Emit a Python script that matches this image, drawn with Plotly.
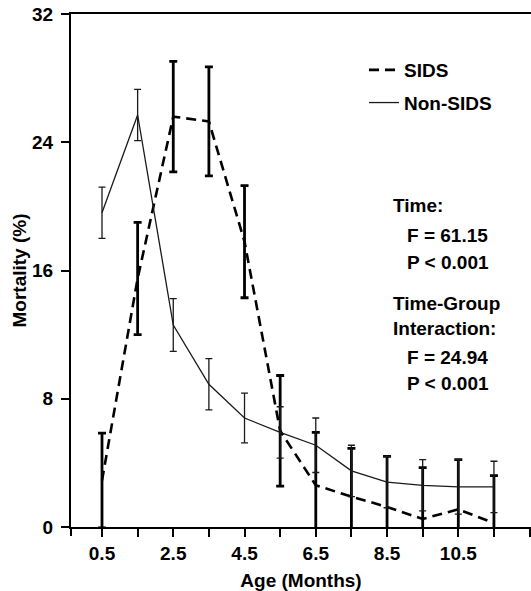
import plotly.graph_objects as go

# ---- data ----
ages = [0.5, 1.5, 2.5, 3.5, 4.5, 5.5, 6.5, 7.5, 8.5, 9.5, 10.5, 11.5]
sids_mean = [2.9, 15.5, 25.6, 25.3, 17.8, 6.0, 2.6, 1.9, 1.25, 0.5, 1.1, 0.25]
sids_err = [2.95, 3.5, 3.45, 3.4, 3.5, 3.45, 3.3, 3.0, 3.15, 3.2, 3.1, 2.95]
non_mean = [19.6, 25.7, 12.6, 8.9, 6.8, 5.9, 5.1, 3.5, 2.8, 2.6, 2.5, 2.5]
non_err = [1.6, 1.6, 1.65, 1.6, 1.55, 1.6, 1.7, 1.6, 1.6, 1.6, 1.7, 1.6]
x_tick_vals = [0.5, 2.5, 4.5, 6.5, 8.5, 10.5]
x_tick_text = ["0.5", "2.5", "4.5", "6.5", "8.5", "10.5"]
y_tick_vals = [0, 8, 16, 24, 32]
stats_lines = [
    ("Time:", 0),
    ("F = 61.15", 1),
    ("P < 0.001", 1),
    ("Time-Group", 0),
    ("Interaction:", 0),
    ("F = 24.94", 1),
    ("P < 0.001", 1),
]

W, H = 531, 591
ML, MR, MT, MB = 71, 0, 14, 64
PW, PH = W - ML - MR, H - MT - MB
FONT = "Liberation Sans"
FS = 19


def px(x):
    return (x - ML) / PW


def py(y):
    return (H - MB - y) / PH


bold = dict(family=FONT, size=FS, color="black", weight="bold")

fig = go.Figure()
fig.add_trace(go.Scatter(
    x=ages, y=sids_mean, mode="lines", name="SIDS", legendgroup="a",
    line=dict(color="black", width=2.6, dash="10px,6px"),
    error_y=dict(type="data", array=sids_err, color="black", thickness=2.8, width=4),
))
fig.add_trace(go.Scatter(
    x=ages, y=non_mean, mode="lines", name="Non-SIDS", legendgroup="b",
    line=dict(color="#1a1a1a", width=1.3),
    error_y=dict(type="data", array=non_err, color="#1a1a1a", thickness=1.3, width=3.5),
))

# stats annotations
ys = [205, 235, 262, 303, 328, 357, 383]
for (txt, indent), yy in zip(stats_lines, ys):
    fig.add_annotation(
        x=px(391 + 14 * indent), y=py(yy), xref="paper", yref="paper",
        text=txt, showarrow=False, xanchor="left", yanchor="middle",
        font=bold,
    )

# y axis extends slightly below x axis
fig.add_shape(type="line", xref="paper", yref="paper", x0=0, x1=0, y0=0, y1=-9 / PH,
              line=dict(color="black", width=2))

fig.update_layout(
    width=W, height=H,
    margin=dict(l=ML, r=MR, t=MT, b=MB),
    paper_bgcolor="white", plot_bgcolor="white",
    font=bold,
    showlegend=True,
    legend=dict(
        x=px(364), y=py(51), xanchor="left", yanchor="top",
        traceorder="grouped", tracegroupgap=5,
        font=bold,
        bgcolor="rgba(0,0,0,0)",
    ),
    xaxis=dict(
        range=[-0.37, 12.54],
        tickmode="array", tickvals=x_tick_vals, ticktext=x_tick_text,
        ticks="outside", ticklen=8, tickwidth=2, tickcolor="black",
        minor=dict(tickmode="linear", tick0=0.5, dtick=1, ticks="outside",
                   ticklen=8, tickwidth=2, tickcolor="black", showgrid=False),
        showline=True, linecolor="black", linewidth=2, mirror=True,
        showgrid=False, zeroline=False,
        tickfont=bold,
        title=dict(text="Age (Months)", standoff=12, font=bold),
    ),
    yaxis=dict(
        range=[0, 32],
        tickmode="array", tickvals=y_tick_vals,
        ticks="outside", ticklen=8, tickwidth=2, tickcolor="black",
        showline=True, linecolor="black", linewidth=2,
        showgrid=False, zeroline=False,
        tickfont=bold,
        ticklabelstandoff=4,
        title=dict(text="Mortality (%)", standoff=0, font=bold),
    ),
)

fig.write_html("out.html")
